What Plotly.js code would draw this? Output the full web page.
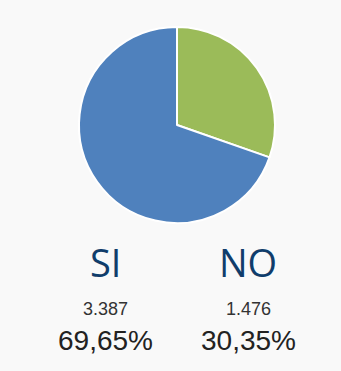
<!DOCTYPE html>
<html><head><meta charset="utf-8">
<script src="https://cdn.plot.ly/plotly-3.0.1.min.js"></script>
<style>html,body{margin:0;padding:0;background:#f9f9f9;}#c{width:341px;height:371px;}</style>
</head><body><div id="c"></div>
<script>
const labels = ['SI', 'NO'];
const values = [3387, 1476];
const colors = ['#4f81bd', '#9bbb59'];
const labelX = [105, 248];

const total = values.reduce((a, b) => a + b, 0);
const fmtCount = v => v.toString().replace(/\B(?=(\d{3})+(?!\d))/g, '.');
const fmtPct = v => (v / total * 100).toFixed(2).replace('.', ',') + '%';

const W = 341, H = 371;
const py = y => 1 - y / H;
const annotations = [];
labels.forEach((l, i) => {
  const xp = labelX[i] / W;
  annotations.push({text: l, x: xp, y: py(262), xref: 'paper', yref: 'paper', showarrow: false,
    xanchor: 'center', yanchor: 'middle', font: {family: 'Open Sans', size: 38, color: '#103d6b'}});
  annotations.push({text: fmtCount(values[i]), x: xp, y: py(309), xref: 'paper', yref: 'paper', showarrow: false,
    xanchor: 'center', yanchor: 'middle', font: {family: 'Liberation Sans, Arial', size: 18, color: '#333333'}});
  annotations.push({text: fmtPct(values[i]), x: xp, y: py(340), xref: 'paper', yref: 'paper', showarrow: false,
    xanchor: 'center', yanchor: 'middle', font: {family: 'Liberation Sans, Arial', size: 28, color: '#222222'}});
});

// draw NO first going clockwise from 12 o'clock so SI sits on the left
const order = [1, 0];
Plotly.newPlot('c', [{
  type: 'pie', labels: order.map(i => labels[i]), values: order.map(i => values[i]),
  sort: false, direction: 'clockwise', rotation: 0,
  marker: {colors: order.map(i => colors[i]), line: {color: '#ffffff', width: 2}},
  textinfo: 'none', hoverinfo: 'none',
  domain: {x: [79 / W, 275 / W], y: [py(223), py(27)]}
}], {
  width: W, height: H, margin: {l: 0, r: 0, t: 0, b: 0},
  paper_bgcolor: '#f9f9f9', plot_bgcolor: '#f9f9f9', showlegend: false,
  annotations: annotations
}, {displayModeBar: false, staticPlot: true});
</script></body></html>
